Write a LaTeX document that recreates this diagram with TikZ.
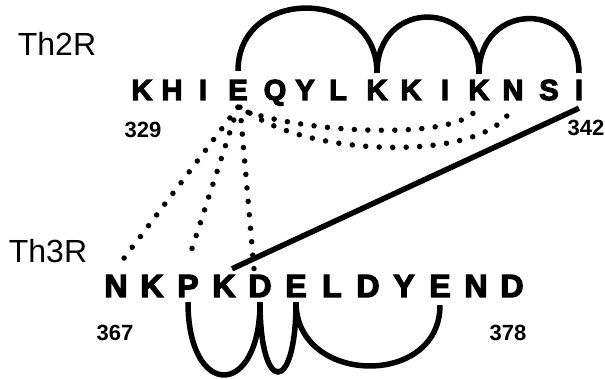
\documentclass[tikz,border=0pt]{standalone}
\usepackage{fontspec}
\setmainfont{Liberation Sans}
\newfontfamily\resfont[FakeBold=4]{Liberation Sans Bold}
\newfontfamily\numfont{Liberation Sans Bold}
\usetikzlibrary{positioning, calc}

\begin{document}
\begin{tikzpicture}[
    x=1pt, y=1pt,
    res/.style={inner sep=0pt, anchor=base, font=\resfont\fontsize{29}{29}\selectfont},
    resb/.style={res, font=\resfont\fontsize{32}{32}\selectfont},
    num/.style={inner sep=0pt, font=\numfont\fontsize{22}{22}\selectfont},
    chain/.style={inner sep=0pt, font=\fontsize{32}{32}\selectfont},
    loop/.style={line width=5.5pt},
    hbond/.style={line width=5.5pt, line cap=round, dash pattern=on 0pt off 13.5pt}
  ]
  \useasboundingbox (0,-379) rectangle (605,0);

  % residues
  \foreach \l/\x [count=\i from 0] in {K/142,H/172,I/203,E/238,Q/275,Y/305,L/338,
      K/377,K/411,I/445,K/479,N/513,S/549,I/579}
    \node[res] (t\i) at (\x,-100) {\l};
  \foreach \l [count=\i from 0] in {N,K,P,K,D,E,L,D,Y,E,N,D}
    \node[resb] (b\i) at ({116+36*\i},-297) {\l};

  \node[chain] (th2) at (57,-44) {Th2R};
  \node[chain] (th3) at (48,-251) {Th3R};
  \node[num] (n329) at (143,-130) {329};
  \node[num] (n342) at (586,-128) {342};
  \node[num] (n367) at (115,-333) {367};
  \node[num] (n378) at (508,-333) {378};

  % loops above Th2R
  \draw[loop] ([yshift=9pt]t3.north) .. controls +(0,85) and +(0,85) .. ([yshift=7pt]t7.north);
  \draw[loop] ([yshift=7pt]t7.north) .. controls +(0,75) and +(0,75) .. ([yshift=6pt]t10.north);
  \draw[loop] ([yshift=6pt]t10.north) .. controls +(0,73) and +(0,73) .. ([yshift=7pt]t13.north);

  % loops below Th3R
  \draw[loop] ([yshift=-5pt]b2.south) .. controls +(0,-97) and +(0,-97) .. ([yshift=-5pt]b4.south);
  \draw[loop] ([yshift=-5pt]b4.south) .. controls +(0,-93) and +(0,-93) .. ([yshift=-5pt]b5.south);
  \draw[loop] ([yshift=-5pt]b5.south) .. controls +(0,-83) and +(0,-83) .. ([yshift=-8pt]b9.south);

  \draw[loop] ([yshift=-8pt]t13.south) -- ([shift={(8pt,6pt)}]b3.north);

  % contacts
  \draw[hbond] ([yshift=-7pt]t3.south) -- ([yshift=6pt]b0.north);
  \draw[hbond] ([yshift=-7pt]t3.south) -- ([yshift=14pt]b2.north);
  \draw[hbond] ([xshift=2pt,yshift=-7pt]t3.south) -- ([shift={(-6pt,6pt)}]b4.north);
  \draw[hbond] ([shift={(10pt,-12pt)}]t3.south) .. controls +(72,-23) and +(-8,-36) .. ([yshift=-4pt]t10.south);
  \draw[hbond] ([shift={(12pt,-13pt)}]t3.south) .. controls +(70,-47) and +(-15,-56) .. ([yshift=-4pt]t11.south);
\end{tikzpicture}
\end{document}
